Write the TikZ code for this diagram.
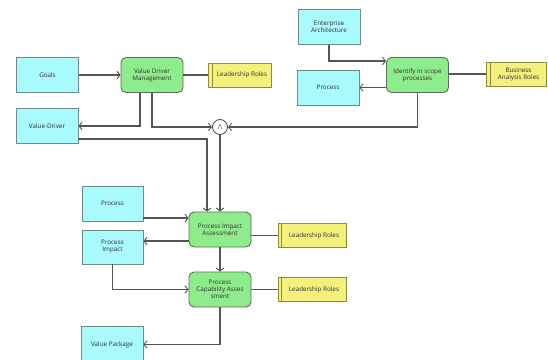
\documentclass[tikz,border=0pt]{standalone}
\usepackage{fontspec}
\setmainfont{Open Sans}
\usetikzlibrary{arrows.meta}

\definecolor{dataFill}{HTML}{A9FAFC}
\definecolor{dataLine}{HTML}{6E8A8C}
\definecolor{actFill}{HTML}{8FEC8C}
\definecolor{actLine}{HTML}{5C6E5C}
\definecolor{roleFill}{HTML}{F4F07C}
\definecolor{roleLine}{HTML}{8E8A3A}
\definecolor{flowLine}{HTML}{555555}
\definecolor{txt}{HTML}{2E2E2E}

\tikzset{
  base/.style={font=\fontsize{6.3}{7}\selectfont, text=txt, align=center, inner sep=1pt},
  databox/.style={base, draw=dataLine, fill=dataFill, line width=0.9pt,
    minimum width=62pt, minimum height=35pt},
  actbox/.style={base, draw=actLine, fill=actFill, line width=0.9pt,
    rounded corners=5pt, minimum width=62pt, minimum height=35pt},
  rolebox/.style={base, draw=roleLine, fill=roleFill, line width=0.8pt,
    minimum height=24pt},
  andgate/.style={circle, draw=flowLine, fill=white, line width=0.9pt,
    minimum size=15pt, inner sep=0pt, font=\fontsize{8}{8}\selectfont},
  flow/.style={draw=flowLine, line width=1.1pt},
  arr/.style={flow, -{Straight Barb[length=3pt,width=7.5pt,line width=0.9pt]}},
}

% yellow role box with the extra bar on its left side
\newcommand{\rolenode}[4]{%
  \node[rolebox, minimum width=#3] (#1) at #2 {#4};
  \draw[roleLine, line width=0.8pt] ([xshift=4pt]#1.north west) -- ([xshift=4pt]#1.south west);
}

\begin{document}
\begin{tikzpicture}[x=1pt,y=-1pt]
\useasboundingbox (0,0) rectangle (548,359);

% nodes
\node[databox] (goals) at (47.5,75) {Goals};
\node[actbox] (vdm) at (152,75) {Value Driver\\Management};
\rolenode{lr1}{(240,75)}{63pt}{\hspace*{4pt}Leadership Roles}
\node[databox] (vd) at (47,126) {Value-Driver};

\node[databox] (ea) at (329,27) {Enterprise\\Architecture};
\node[actbox] (idp) at (417.5,75) {Identify in scope\\processes};
\node[databox] (ptop) at (328,87.5) {Process};
\rolenode{bar}{(516.5,74)}{60pt}{\hspace*{4pt}Business\\\hspace*{4pt}Analysis Roles}

\node[andgate] (and) at (220,127) {$\wedge$};

\node[databox, minimum width=61pt] (pmid) at (112.5,203.5) {Process};
\node[actbox] (pia) at (220,229.5) {Process Impact\\Assessment};
\rolenode{lr2}{(312,235.5)}{68pt}{\hspace*{4pt}Leadership Roles}
\node[databox, minimum width=61pt, minimum height=34pt] (pimp) at (112.5,247) {Process\\Impact};
\node[actbox] (pca) at (220,289.5) {Process\\Capability Asses\\sment};
\rolenode{lr3}{(312,289.5)}{68pt}{\hspace*{4pt}Leadership Roles}
\node[databox, minimum height=37pt] (vp) at (112,344.5) {Value Package};

% helper points on box sides
\coordinate (eaIn)   at ([yshift=14pt]idp.west);
\coordinate (vdmL)   at ([xshift=-12pt]vdm.south);
\coordinate (vdOut)  at ([yshift=-13pt]vd.east);
\coordinate (piaTop) at ([xshift=-13pt]pia.north);
\coordinate (piaIn)  at ([yshift=11.5pt]pia.west);
\coordinate (piaOut) at ([yshift=-11.5pt]pia.west);

% connectors
\draw[arr] (goals.east) -- (vdm.west);
\draw[flow] (vdm.east) -- (lr1.west);
\draw[flow] (idp.east |- bar.west) -- (bar.west);
\draw[arr] (vdmL) |- (vd.east);
\draw[arr] (vdm.south) |- (and.west);
\draw[arr] (ea.south) |- (eaIn);
\draw[arr] (idp.west |- ptop.east) -- (ptop.east);
\draw[arr] (idp.south) |- (and.east);
\draw[arr] (vdOut) -| (piaTop);
\draw[arr] (and.south) -- (pia.north);

\draw[arr] (piaIn -| pmid.east) -- (piaIn);
\draw[arr] (piaOut) -- (piaOut -| pimp.east);
\draw[flow] (pia.east |- lr2.west) -- (lr2.west);
\draw[arr] (pia.south) -- (pca.north);
\draw[arr] (pimp.south) |- (pca.west);
\draw[flow] (pca.east) -- (lr3.west);
\draw[arr] (pca.south) |- (vp.east);
\end{tikzpicture}
\end{document}
